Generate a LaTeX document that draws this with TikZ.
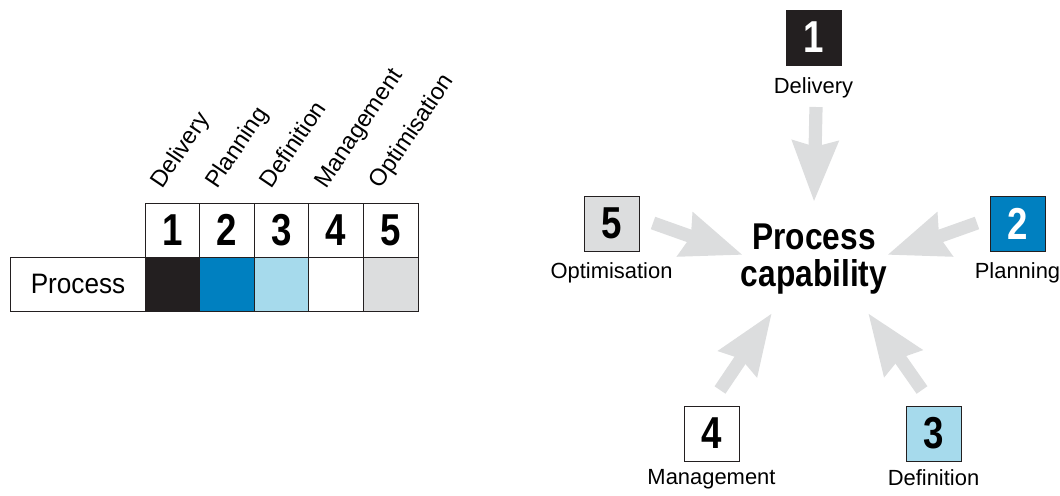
\documentclass[tikz,border=0pt]{standalone}
\usepackage{fontspec}
\setmainfont{Liberation Sans}
\usepackage{graphicx}
\usetikzlibrary{arrows.meta,positioning}
\definecolor{capdark}{HTML}{231F20}
\definecolor{capblue}{HTML}{0080C0}
\definecolor{caplight}{HTML}{A6DAEC}
\definecolor{capgrey}{HTML}{DCDDDE}
\newcommand{\bignum}[1]{\scalebox{0.82}[1]{\fontsize{31.8}{32}\selectfont\bfseries #1}}
\newcommand{\narrowtxt}[1]{\scalebox{0.85}[1]{#1}}
\newcommand{\capfont}{\fontsize{15.6}{18}\selectfont}

\begin{document}
\begin{tikzpicture}[x=0.025cm,y=-0.025cm,
    cell/.style={draw=capdark,line width=0.7pt,minimum width=1.365cm,minimum height=1.35cm,inner sep=0pt,outer sep=0pt},
    levelbox/.style={draw=capdark,line width=0.7pt,minimum size=1.375cm,inner sep=0pt},
    levelname/.style={font=\capfont,inner sep=0pt},
    push/.style={draw=capgrey,line width=0.33cm,-{Stealth[length=1.5cm,width=1.1cm,inset=0.12cm]}}]
\useasboundingbox (0,0) rectangle (1060,495);

% table on the left
\node[cell,minimum width=3.35cm,font=\fontsize{20}{24}\selectfont] (proc) at (78,284) {\scalebox{0.93}[1]{Process}};
\foreach \i/\col/\lvl in {1/capdark/Delivery,2/capblue/Planning,3/caplight/Definition,4/white/Management,5/capgrey/Optimisation}{
    \node[cell,fill=\col] (f\i) at ({145+54.6*(\i-0.5)},284) {};
    \node[cell] (n\i) at ({145+54.6*(\i-0.5)},230) {\bignum{\i}};
    \node[levelname,font=\fontsize{16.8}{19}\selectfont,anchor=base west,rotate=56] (t\i) at ({145+54.6*(\i-0.5)-10},190) {\lvl};
}

% levels round the centre
\node[levelbox,fill=capdark,text=white] (b1) at (813.5,37.5) {\bignum{1}};
\node[levelname,below=0.3cm of b1] (l1) {Delivery};
\node[levelbox,fill=capblue,text=white] (b2) at (1017.5,223.5) {\bignum{2}};
\node[levelname,below=0.27cm of b2] (l2) {Planning};
\node[levelbox,fill=caplight] (b3) at (933.5,433.5) {\bignum{3}};
\node[levelname,below=0.2cm of b3] (l3) {Definition};
\node[levelbox,fill=white] (b4) at (711.5,433.5) {\bignum{4}};
\node[levelname,below=0.2cm of b4] (l4) {Management};
\node[levelbox,fill=capgrey] (b5) at (611.5,223.5) {\bignum{5}};
\node[levelname,below=0.27cm of b5] (l5) {Optimisation};

\node[font=\fontsize{26.5}{26.3}\selectfont\bfseries,align=center,inner sep=0pt] (pc) at (814,259)
    {\narrowtxt{Process}\\\narrowtxt{capability}};

% arrows
\coordinate (s1) at (816,107); \coordinate (e1) at (814,202);
\coordinate (s2) at (977,223); \coordinate (e2) at (887,255);
\coordinate (s3) at (922,390); \coordinate (e3) at (868,313);
\coordinate (s4) at (720,390); \coordinate (e4) at (772,313);
\coordinate (s5) at (653,223); \coordinate (e5) at (743,255);
\foreach \k in {1,...,5}
    \draw[push] (s\k) -- (e\k);
\end{tikzpicture}
\end{document}
